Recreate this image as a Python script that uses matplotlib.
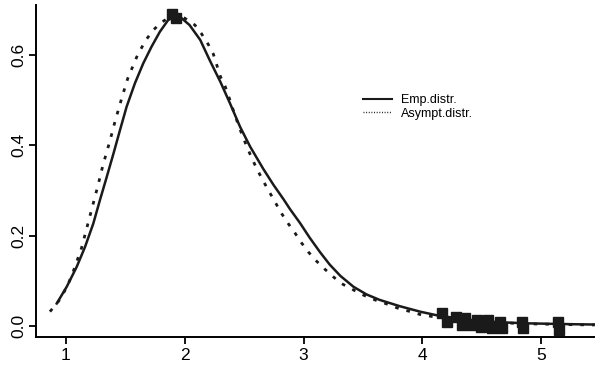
import matplotlib
matplotlib.use('Agg')
import matplotlib.pyplot as plt

plt.rcParams['font.family'] = ['Liberation Sans', 'DejaVu Sans']

# empirical density curve (solid)
emp_x = [0.922, 1.006, 1.09, 1.16, 1.23, 1.286, 1.343, 1.40, 1.455, 1.51, 1.58, 1.65,
         1.72, 1.79, 1.86, 1.93, 1.96, 2.04, 2.13, 2.21, 2.30, 2.38, 2.465, 2.55, 2.66,
         2.745, 2.83, 2.885, 2.97, 3.05, 3.14, 3.22, 3.31, 3.42, 3.53, 3.64, 3.81, 3.98,
         4.12, 4.3, 4.5, 4.7, 4.9, 5.1, 5.3, 5.45]
emp_y = [0.050, 0.087, 0.131, 0.175, 0.227, 0.279, 0.330, 0.382, 0.434, 0.485, 0.537,
         0.581, 0.618, 0.651, 0.677, 0.688, 0.684, 0.666, 0.633, 0.588, 0.540, 0.493,
         0.441, 0.397, 0.348, 0.313, 0.281, 0.259, 0.228, 0.196, 0.163, 0.136, 0.111,
         0.087, 0.070, 0.058, 0.044, 0.032, 0.024, 0.017, 0.011, 0.008, 0.006, 0.005,
         0.004, 0.0035]

# asymptotic density curve (dotted)
asy_x = [0.865, 0.935, 0.977, 1.02, 1.06, 1.13, 1.20, 1.27, 1.31, 1.37, 1.41, 1.47,
         1.52, 1.595, 1.665, 1.735, 1.805, 1.875, 1.945, 2.0, 2.085, 2.14, 2.20, 2.24,
         2.30, 2.34, 2.38, 2.42, 2.465, 2.51, 2.55, 2.59, 2.63, 2.675, 2.72, 2.815,
         2.87, 2.93, 2.98, 3.04, 3.10, 3.17, 3.25, 3.32, 3.42, 3.50, 3.60, 3.70, 3.80,
         3.90, 3.99, 4.09, 4.3, 4.5, 4.7, 4.9, 5.1, 5.3, 5.45]
asy_y = [0.032, 0.054, 0.072, 0.094, 0.120, 0.172, 0.242, 0.312, 0.355, 0.410, 0.450,
         0.505, 0.548, 0.595, 0.630, 0.655, 0.672, 0.684, 0.688, 0.681, 0.666, 0.647,
         0.622, 0.602, 0.552, 0.530, 0.500, 0.468, 0.435, 0.405, 0.380, 0.357, 0.336,
         0.314, 0.293, 0.249, 0.227, 0.205, 0.185, 0.164, 0.146, 0.128, 0.109, 0.094,
         0.080, 0.069, 0.058, 0.049, 0.039, 0.032, 0.025, 0.021, 0.014, 0.010, 0.007,
         0.005, 0.004, 0.003, 0.0025]

# observed points (filled squares)
pts_x = [1.89, 1.93, 4.165, 4.21, 4.28, 4.33, 4.36, 4.42, 4.46, 4.49, 4.55, 4.59,
         4.65, 4.67, 4.84, 4.85, 5.14, 5.15]
pts_y = [0.69, 0.682, 0.029, 0.0095, 0.021, 0.002, 0.018, 0.002, 0.013, -0.003, 0.013,
         -0.005, 0.0095, -0.005, 0.0095, -0.005, 0.0095, -0.009]

xticks = [1, 2, 3, 4, 5]
yticks = [0.0, 0.2, 0.4, 0.6]

fig = plt.figure(figsize=(5.95, 3.66), dpi=100)
ax = fig.add_axes([0.0605, 0.079, 0.9395, 0.907])

ax.plot(emp_x, emp_y, color='#1a1a1a', lw=1.8, label='Emp.distr.')
ax.plot(asy_x, asy_y, color='#1a1a1a', lw=2.0, linestyle=(0, (1.3, 2.9)),
        dash_capstyle='butt', label='Asympt.distr.')
ax.plot(pts_x, pts_y, 's', color='#1a1a1a', ms=6.5, zorder=5)

ax.set_xlim(0.7475, 5.453)
ax.set_ylim(-0.0243, 0.710)
ax.set_xticks(xticks)
ax.set_xticklabels([str(t) for t in xticks])
ax.set_yticks(yticks)
ax.set_yticklabels(['%.1f' % t for t in yticks], rotation=90, va='center')

for s in ['top', 'right']:
    ax.spines[s].set_visible(False)
for s in ['left', 'bottom']:
    ax.spines[s].set_linewidth(1.4)
ax.tick_params(direction='out', length=5, width=1.3, labelsize=12.5, pad=3)
ax.tick_params(axis='y', pad=2)

leg = ax.legend(loc='upper left', bbox_to_anchor=(0.565, 0.765), frameon=False,
                fontsize=9, handlelength=2.3, handletextpad=0.75, labelspacing=0.1)
for line in leg.get_lines():
    line.set_linewidth(1.5)
leg.get_lines()[1].set_linestyle((0, (0.7, 1.2)))
leg.get_lines()[1].set_linewidth(1.0)

fig.savefig('out.png', dpi=100)
